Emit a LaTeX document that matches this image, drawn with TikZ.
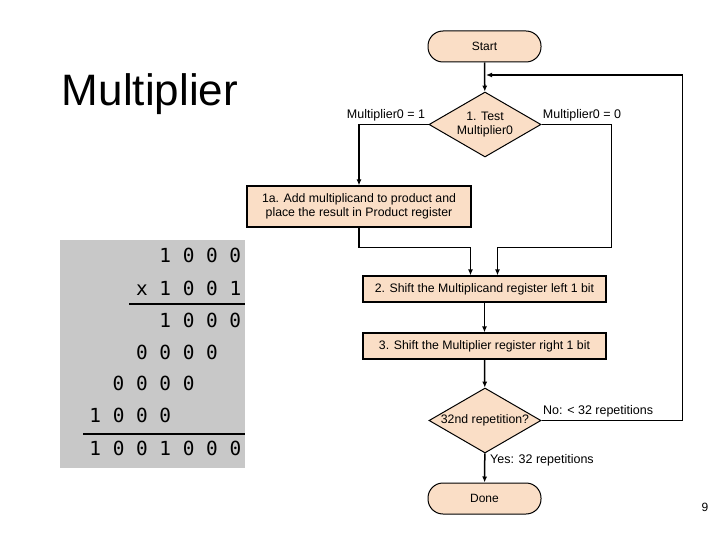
\documentclass[tikz,border=0pt]{standalone}
\usepackage{fontspec}
\setmainfont{Liberation Sans}
\newfontfamily\digitfont{DejaVu Sans Mono}
\usetikzlibrary{shapes.geometric,arrows.meta,positioning,calc}
\definecolor{boxpeach}{RGB}{250,222,198}
\definecolor{sumgray}{RGB}{200,200,200}

\begin{document}
\begin{tikzpicture}[x=1pt, y=-1pt,
  term/.style={draw, rectangle, rounded corners=15pt, fill=boxpeach, line width=1pt, minimum width=113pt, minimum height=31pt, inner sep=0pt, font=\fontsize{12}{14}\selectfont},
  box/.style={draw, rectangle, fill=boxpeach, line width=1.2pt, inner sep=0pt, align=center, font=\fontsize{12.3}{14}\selectfont},
  dec/.style={draw, diamond, aspect=1.7, fill=boxpeach, line width=1pt, inner sep=0pt, minimum width=112pt, minimum height=65pt, align=center, font=\fontsize{12.3}{14}\selectfont},
  lbl/.style={font=\fontsize{12.5}{14}\selectfont, inner sep=0pt},
  row/.style={anchor=base west, inner sep=0pt, font=\digitfont\fontsize{19.4}{22}\selectfont},
  arr/.style={-{Latex[length=6pt,width=5pt]}, line width=1.5pt}
]
\useasboundingbox (0,0) rectangle (720,540);

% title
\node[font=\fontsize{44}{50}\selectfont, inner sep=0pt] (title) at (150,94) {Multiplier};

% paper-and-pencil example
\fill[sumgray] (60,240) rectangle (245,468);
\node[row] (r1) at (159.2,262) {1 0 0 0};
\node[row] (r2) at (135.9,295) {x 1 0 0 1};
\node[row] (r3) at (159.2,327) {1 0 0 0};
\node[row] (r4) at (135.9,359) {0 0 0 0};
\node[row] (r5) at (112.5,390) {0 0 0 0};
\node[row] (r6) at (89.2,422) {1 0 0 0};
\node[row] (r7) at (89.2,455) {1 0 0 1 0 0 0};
\draw[line width=1.8pt] (129,304) -- (245,304);
\draw[line width=1.8pt] (83,434) -- (245,434);

% flowchart
\node[term] (start) at (484.5,46.5) {Start};
\node[dec] (test) at (485,124.5) {1. Test\\Multiplier0};
\node[box, minimum width=224pt, minimum height=41pt] (addp) at (359,206.5) {1a. Add multiplicand to product and\\place the result in Product register};
\node[box, minimum width=243pt, minimum height=26pt] (shl) at (484.5,289) {2. Shift the Multiplicand register left 1 bit};
\node[box, minimum width=243pt, minimum height=26pt] (shr) at (484.5,346) {3. Shift the Multiplier register right 1 bit};
\node[dec] (rep) at (485,420.5) {32nd repetition?};
\node[term] (done) at (484.5,498.5) {Done};
\coordinate (loop) at (486,75);

\node[lbl] (m1) at (386,115) {Multiplier0 = 1};
\node[lbl] (m0) at (582,115) {Multiplier0 = 0};
\node[lbl, anchor=west] (no) at (543,411) {No: < 32 repetitions};
\node[lbl, anchor=west] (yes) at (490,460) {Yes: 32 repetitions};

\draw[arr] (start) -- (test);
\draw[arr] (test.west) -| (addp.north);
\draw[arr] (test.east) -- ++(70,0) -- ++(0,123) -| ([xshift=13pt]shl.north);
\draw[arr] (addp.south) -- ++(0,20) -| ([xshift=-14pt]shl.north);
\draw[arr] (shl) -- (shr);
\draw[arr] (shr) -- (rep);
\draw[arr] (rep.east) -- ++(141,0) |- (loop);
\draw[arr] (rep) -- (done);

\node[font=\fontsize{12}{14}\selectfont, inner sep=0pt] (page) at (705,507) {9};
\end{tikzpicture}
\end{document}
